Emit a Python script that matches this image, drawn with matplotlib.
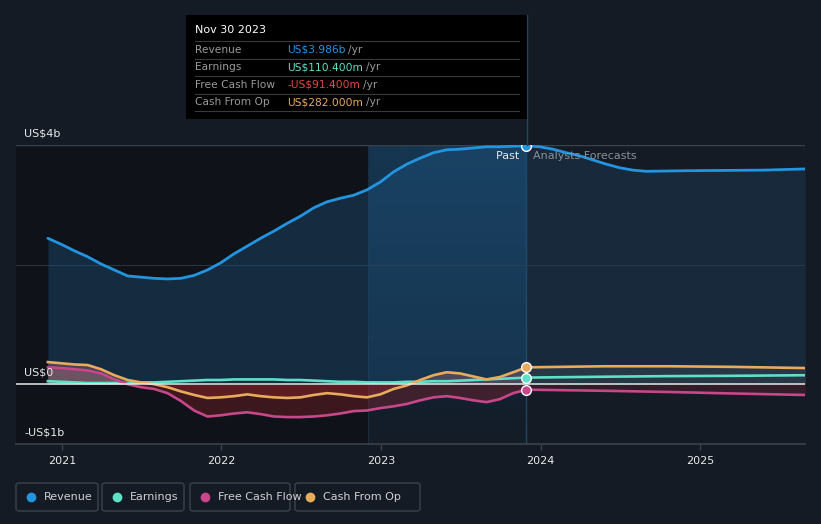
import matplotlib
matplotlib.use("Agg")
import matplotlib.pyplot as plt
from matplotlib.patches import FancyBboxPatch, Rectangle
from matplotlib.lines import Line2D
import numpy as np

# ---- data (US$ billions, x in decimal years) ----
# monthly points from Nov 2020 to Nov 2023
past_x = [2020.912 + k / 12 for k in range(37)]
revenue_past = [2.44, 2.34, 2.23, 2.13, 2.01, 1.91, 1.81, 1.79, 1.77, 1.76, 1.77, 1.82, 1.91,
                2.03, 2.18, 2.31, 2.44, 2.56, 2.69, 2.81, 2.95, 3.05, 3.11, 3.16, 3.25, 3.38,
                3.55, 3.68, 3.78, 3.87, 3.92, 3.93, 3.95, 3.97, 3.97, 3.98, 3.986]
earnings_past = [0.05, 0.04, 0.03, 0.02, 0.02, 0.02, 0.02, 0.03, 0.03, 0.04, 0.05, 0.06, 0.07,
                 0.07, 0.08, 0.08, 0.08, 0.08, 0.07, 0.07, 0.06, 0.05, 0.04, 0.04, 0.03, 0.03,
                 0.03, 0.04, 0.04, 0.05, 0.05, 0.06, 0.07, 0.08, 0.09, 0.10, 0.1104]
fcf_past = [0.28, 0.27, 0.25, 0.23, 0.18, 0.08, 0.0, -0.05, -0.08, -0.15, -0.28, -0.44, -0.54,
            -0.52, -0.49, -0.47, -0.50, -0.54, -0.55, -0.55, -0.54, -0.52, -0.49, -0.45, -0.44,
            -0.40, -0.37, -0.33, -0.27, -0.22, -0.20, -0.23, -0.27, -0.30, -0.25, -0.15, -0.0914]
cfo_past = [0.37, 0.35, 0.33, 0.32, 0.25, 0.15, 0.07, 0.03, 0.0, -0.05, -0.12, -0.18, -0.23,
            -0.22, -0.20, -0.17, -0.20, -0.22, -0.23, -0.22, -0.18, -0.15, -0.17, -0.20, -0.22,
            -0.17, -0.08, -0.02, 0.07, 0.15, 0.20, 0.18, 0.13, 0.08, 0.12, 0.20, 0.282]

# analyst forecasts
rev_fc_x = [2023.912, 2023.995, 2024.078, 2024.162, 2024.245, 2024.328, 2024.412, 2024.495,
            2024.578, 2024.662, 2024.912, 2025.40, 2025.66]
revenue_fc = [3.986, 3.97, 3.93, 3.87, 3.82, 3.75, 3.68, 3.62, 3.58, 3.56, 3.57, 3.58, 3.60]
fc_x = [2023.912, 2024.40, 2024.80, 2025.20, 2025.66]
earnings_fc = [0.1104, 0.125, 0.135, 0.14, 0.15]
fcf_fc = [-0.0914, -0.11, -0.13, -0.155, -0.18]
cfo_fc = [0.282, 0.30, 0.30, 0.29, 0.27]

years = [2021, 2022, 2023, 2024, 2025]
ytick_vals = [4, 0, -1]
ytick_labels = ["US$4b", "US$0", "-US$1b"]

tooltip_date = "Nov 30 2023"
tooltip_rows = [("Revenue", "US$3.986b"), ("Earnings", "US$110.400m"),
                ("Free Cash Flow", "-US$91.400m"), ("Cash From Op", "US$282.000m")]
series_names = ["Revenue", "Earnings", "Free Cash Flow", "Cash From Op"]

# ---- styling ----
BG = "#151b24"
C_REV = "#2394df"
C_EARN = "#5fe0c8"
C_FCF = "#c8468a"
C_CFO = "#e8ab5c"
C_FCF_TXT = "#e84545"
past_start = 2022.918
now = 2023.912

W, H = 821, 524
fig = plt.figure(figsize=(W / 100, H / 100), dpi=100, facecolor=BG)


def fx(px):
    return px / W


def fy(py):
    return 1 - py / H


ax = fig.add_axes([fx(16), fy(444), (805 - 16) / W, (444 - 145) / H])
ax.set_facecolor(BG)
ax.set_xlim(2020.712, 2025.658)
ax.set_ylim(-1, 4)

# background bands
ax.axvspan(ax.get_xlim()[0], past_start, color="#0f1319", zorder=0, lw=0)
grad = np.linspace(0, 1, 100).reshape(-1, 1)
ax.imshow(grad, extent=[past_start, now, -1, 4], aspect="auto", origin="lower",
          cmap=matplotlib.colors.LinearSegmentedColormap.from_list(
              "p", ["#131c27", "#163651"]), zorder=0.5)
ax.axvline(past_start, color="#1c2c3c", lw=0.8, zorder=0.6)
ax.axvline(now, color="#1f4564", lw=1, zorder=0.6)

# gridlines
ax.axhline(4, color="#3c424b", lw=1, zorder=1)
ax.axhline(2, color="#2b333d", lw=0.8, zorder=1)
ax.axhline(0, color="#e8e8e8", lw=1.1, zorder=6)

# revenue fill
ax.fill_between(past_x, revenue_past, 0, color="#1e5a8a", alpha=0.35, lw=0, zorder=2)
ax.fill_between(rev_fc_x, revenue_fc, 0, color="#1e4a70", alpha=0.3, lw=0, zorder=2)

# cash flow fills
for xs, ys in [(past_x, fcf_past), (past_x, cfo_past)]:
    ys = np.array(ys)
    ax.fill_between(xs, ys, 0, where=ys < 0, interpolate=True, color="#b3262e",
                    alpha=0.28, lw=0, zorder=2)
    ax.fill_between(xs, ys, 0, where=ys >= 0, interpolate=True, color="#b0707a",
                    alpha=0.35, lw=0, zorder=2)
ax.fill_between(fc_x, cfo_fc, 0, color="#7a7a7a", alpha=0.18, lw=0, zorder=2)
ax.fill_between(fc_x, fcf_fc, 0, color="#6a2030", alpha=0.35, lw=0, zorder=2)

# lines
ax.plot(past_x, revenue_past, color=C_REV, lw=2.0, zorder=5, solid_capstyle="round")
ax.plot(rev_fc_x, revenue_fc, color=C_REV, lw=2.0, zorder=5)
ax.plot(past_x, earnings_past, color=C_EARN, lw=1.9, zorder=4)
ax.plot(fc_x, earnings_fc, color=C_EARN, lw=1.9, zorder=4)
ax.plot(past_x, fcf_past, color=C_FCF, lw=1.9, zorder=4)
ax.plot(fc_x, fcf_fc, color=C_FCF, lw=1.9, zorder=4)
ax.plot(past_x, cfo_past, color=C_CFO, lw=1.9, zorder=4)
ax.plot(fc_x, cfo_fc, color=C_CFO, lw=1.9, zorder=4)

for val, c in [(revenue_past[-1], C_REV), (earnings_past[-1], C_EARN),
               (fcf_past[-1], C_FCF), (cfo_past[-1], C_CFO)]:
    ax.plot([now], [val], "o", ms=7, mfc=c, mec="white", mew=1, zorder=8)

# axes styling
for s in ["top", "left", "right"]:
    ax.spines[s].set_visible(False)
ax.spines["bottom"].set_color("#3c424b")
ax.spines["bottom"].set_linewidth(1.2)
ax.set_yticks([])
ax.set_xticks(years)
ax.set_xticklabels([str(y) for y in years])
ax.tick_params(axis="x", colors="#3c424b", length=4, width=1, pad=5,
               labelcolor="#e8e8e8", labelsize=8)

for v, lab in zip(ytick_vals, ytick_labels):
    ax.annotate(lab, xy=(0, v), xycoords=("axes fraction", "data"), xytext=(6, 5),
                textcoords="offset points", color="#e8e8e8", fontsize=8, va="bottom",
                ha="left", zorder=9)

ax.text(now, 3.82, "Past  ", color="#e8e8e8", fontsize=8, ha="right", va="center", zorder=9)
ax.text(now, 3.82, "  Analysts Forecasts", color="#8a9099", fontsize=8, ha="left",
        va="center", zorder=9)

# vertical marker line above axes, up to tooltip
fig.add_artist(Line2D([fx(526.5), fx(526.5)], [fy(145), fy(15)], color="#1f4564", lw=1))

# tooltip
fig.add_artist(Rectangle((fx(186), fy(119)), (527 - 186) / W, (119 - 15) / H,
                         facecolor="black", edgecolor="none", zorder=10))
fig.text(fx(195), fy(30), tooltip_date, color="white", fontsize=8, va="center", zorder=11)
sep_y = [41, 58.5, 76, 93.5, 111]
for sy in sep_y:
    fig.add_artist(Line2D([fx(195), fx(519)], [fy(sy), fy(sy)], color="#3a3a3a", lw=0.8,
                          zorder=11))
val_colors = [C_REV, C_EARN, C_FCF_TXT, C_CFO]
fig.canvas.draw()
renderer = fig.canvas.get_renderer()
for i, ((lab, val), vc) in enumerate(zip(tooltip_rows, val_colors)):
    yy = fy((sep_y[i] + sep_y[i + 1]) / 2)
    fig.text(fx(195), yy, lab, color="#9a9a9a", fontsize=7.7, va="center", zorder=11)
    t = fig.text(fx(287), yy, val, color=vc, fontsize=7.7, va="center", zorder=11)
    bb = t.get_window_extent(renderer)
    fig.text(bb.x1 / W + fx(3), yy, "/yr", color="#9a9a9a", fontsize=7.7, va="center",
             zorder=11)

# legend boxes
leg_boxes = [(16, 98), (102, 184), (190, 290), (295, 420)]
leg_colors = [C_REV, C_EARN, C_FCF, C_CFO]
for name, (x0, x1), c in zip(series_names, leg_boxes, leg_colors):
    fig.add_artist(FancyBboxPatch((fx(x0), fy(511)), (x1 - x0) / W, 28 / H,
                                  boxstyle="round,pad=0,rounding_size=0.004",
                                  facecolor="none", edgecolor="#3c424b", lw=1))
    fig.add_artist(Line2D([fx(x0 + 15)], [fy(497)], marker="o", ms=6, color=c, mec=c))
    fig.text(fx(x0 + 28), fy(497), name, color="#d0d0d0", fontsize=8, va="center")

fig.savefig("out.png", dpi=100, facecolor=BG)
